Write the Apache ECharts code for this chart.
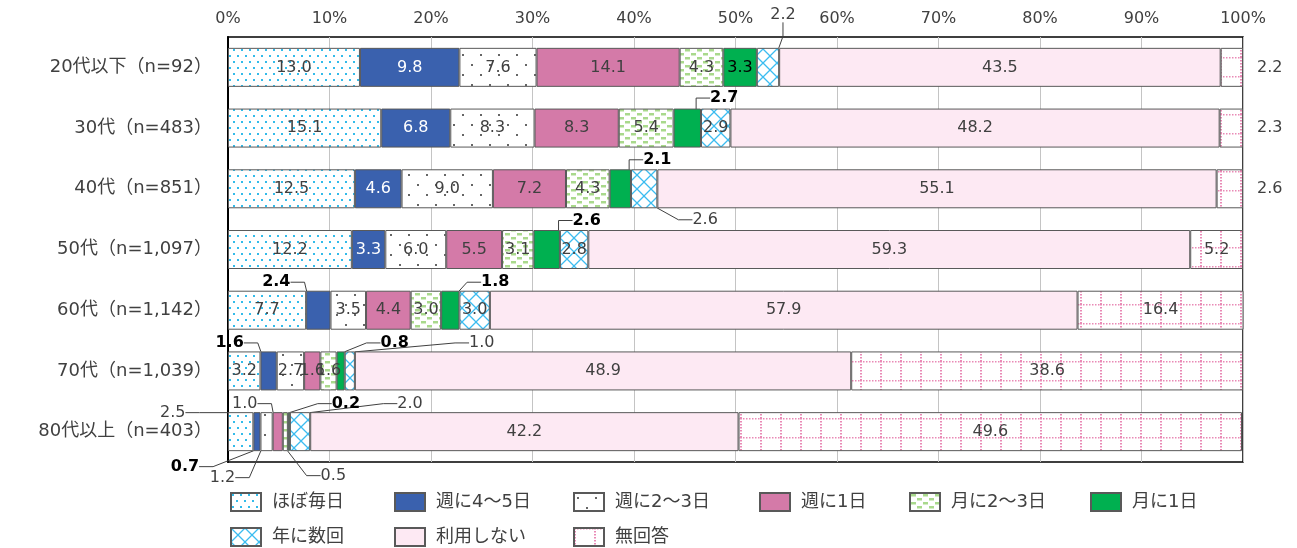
<!DOCTYPE html>
<html>
<head>
<meta charset="utf-8">
<script src="https://cdn.jsdelivr.net/npm/echarts@6/dist/echarts.min.js"></script>
<style>
html,body{margin:0;padding:0;background:#fff;}
#chart{width:1297px;height:548px;}
</style>
</head>
<body>
<div id="chart"></div>
<script>
// ---- data ----
const categories = ['20代以下（n=92）', '30代（n=483）', '40代（n=851）', '50代（n=1,097）', '60代（n=1,142）', '70代（n=1,039）', '80代以上（n=403）'];
const seriesNames = ['ほぼ毎日', '週に4～5日', '週に2～3日', '週に1日', '月に2～3日', '月に1日', '年に数回', '利用しない', '無回答'];
const hoboMainichi = [13.0, 15.1, 12.5, 12.2, 7.7, 3.2, 2.5];
const shu4to5 = [9.8, 6.8, 4.6, 3.3, 2.4, 1.6, 0.7];
const shu2to3 = [7.6, 8.3, 9.0, 6.0, 3.5, 2.7, 1.2];
const shu1 = [14.1, 8.3, 7.2, 5.5, 4.4, 1.6, 1.0];
const tsuki2to3 = [4.3, 5.4, 4.3, 3.1, 3.0, 1.6, 0.5];
const tsuki1 = [3.3, 2.7, 2.1, 2.6, 1.8, 0.8, 0.2];
const nenSuukai = [2.2, 2.9, 2.6, 2.8, 3.0, 1.0, 2.0];
const riyouShinai = [43.5, 48.2, 55.1, 59.3, 57.9, 48.9, 42.2];
const muKaitou = [2.2, 2.3, 2.6, 5.2, 16.4, 38.6, 49.6];
const xTickValues = [0, 10, 20, 30, 40, 50, 60, 70, 80, 90, 100];

const seriesValues = [hoboMainichi, shu4to5, shu2to3, shu1, tsuki2to3, tsuki1, nenSuukai, riyouShinai, muKaitou];

// ---- annotation layout (label offsets from segment centre, px) ----
// [seriesIndex, categoryIndex, dx, dy, style]  style: 'b' bold black, 'g' gray
const callouts = [
  [6, 0, 15, -53, 'g'],
  [5, 1, 37, -30, 'b'],
  [5, 2, 37, -29, 'b'],
  [6, 2, 61, 31, 'g'],
  [5, 3, 40, -29, 'b'],
  [1, 4, -42, -28, 'b'],
  [5, 4, 45, -28, 'b'],
  [1, 5, -39, -28, 'b'],
  [5, 5, 54, -28, 'b'],
  [6, 5, 132, -28, 'g'],
  [0, 6, -68, -19, 'g'],
  [1, 6, -72, 35, 'b'],
  [2, 6, -44, 46, 'g'],
  [3, 6, -33, -28, 'g'],
  [4, 6, 48, 44, 'g'],
  [5, 6, 57, -28, 'b'],
  [6, 6, 110, -28, 'g']
];
const rightLabels = [[8, 0], [8, 1], [8, 2]];

function findCallout(si, ci) {
  return callouts.find(c => c[0] === si && c[1] === ci);
}
function isRight(si, ci) {
  return rightLabels.some(c => c[0] === si && c[1] === ci);
}

// ---- pattern fills ----
function makePattern(w, h, draw) {
  const c = document.createElement('canvas');
  c.width = w; c.height = h;
  const ctx = c.getContext('2d');
  ctx.fillStyle = '#ffffff';
  ctx.fillRect(0, 0, w, h);
  draw(ctx);
  return { image: c, repeat: 'repeat' };
}
const pDots = makePattern(8, 12, ctx => {
  ctx.fillStyle = '#33bbea';
  ctx.fillRect(1, 1, 2, 2);
  ctx.fillRect(5, 7, 2, 2);
});
const pSparse = makePattern(18, 20, ctx => {
  ctx.fillStyle = '#666666';
  ctx.fillRect(3, 4, 2, 2);
  ctx.fillRect(12, 14, 2, 2);
});
const pGreen = makePattern(12, 8, ctx => {
  ctx.fillStyle = '#a9d98c';
  ctx.fillRect(1, 1, 5, 2.5);
  ctx.fillRect(7, 5, 5, 2.5);
});
const pCross = makePattern(14, 14, ctx => {
  ctx.strokeStyle = '#3bbcf0';
  ctx.lineWidth = 1.3;
  ctx.beginPath();
  ctx.moveTo(0, 0); ctx.lineTo(14, 14);
  ctx.moveTo(14, 0); ctx.lineTo(0, 14);
  ctx.stroke();
});
const pGrid = makePattern(20, 19, ctx => {
  ctx.fillStyle = '#e98ab6';
  for (let y = 0; y < 19; y += 3) ctx.fillRect(0, y, 2, 1.5);
  for (let x = 3; x < 20; x += 3) ctx.fillRect(x, 0, 1.5, 1.5);
});

const fills = [pDots, '#3a61ae', pSparse, '#d47aa8', pGreen, '#00b050', pCross, '#fde9f3', pGrid];
const labelColors = ['#404040', '#ffffff', '#404040', '#404040', '#404040', '#000000', '#404040', '#404040', '#404040'];

const latinFont = "'DejaVu Sans', 'Noto Sans CJK JP', sans-serif";
const cjkFont = "'DejaVu Sans', 'Noto Sans CJK JP', sans-serif";

const series = seriesNames.map((name, si) => ({
  type: 'bar',
  name: name,
  stack: 'total',
  barWidth: 39,
  itemStyle: { color: fills[si], borderColor: '#595959', borderWidth: 1 },
  label: {
    show: true,
    position: 'inside',
    color: labelColors[si],
    fontFamily: latinFont,
    fontSize: 16,
    formatter: p => Number(p.value).toFixed(1)
  },
  labelLine: { show: false, length2: 14, lineStyle: { color: '#404040', width: 1 } },
  labelLayout: function (p) {
    const c = findCallout(p.seriesIndex, p.dataIndex);
    if (!c) return {};
    return {
      x: p.rect.x + p.rect.width / 2 + c[2],
      y: p.rect.y + p.rect.height / 2 + c[3],
      align: 'center',
      verticalAlign: 'middle'
    };
  },
  emphasis: { disabled: true },
  data: seriesValues[si].map((v, ci) => {
    const c = findCallout(si, ci);
    if (c) {
      return {
        value: v,
        label: c[4] === 'b' ? { color: '#000000', fontWeight: 'bold' } : { color: '#404040' },
        labelLine: { show: true }
      };
    }
    if (isRight(si, ci)) {
      return { value: v, label: { position: 'right', distance: 14, color: '#404040' } };
    }
    return { value: v };
  })
}));

const legendCols = [230, 394, 573, 759, 909, 1090];
const legends = seriesNames.map((n, i) => ({
  data: [n],
  left: i < 6 ? legendCols[i] : legendCols[i - 6],
  top: i < 6 ? 492 : 527,
  padding: 0,
  icon: 'rect',
  itemWidth: 30,
  itemHeight: 18,
  selectedMode: false,
  textStyle: { fontSize: 18, color: '#404040', fontFamily: cjkFont, padding: [0, 0, 0, 6] }
}));

const chart = echarts.init(document.getElementById('chart'), null, { renderer: 'canvas' });
chart.setOption({
  animation: false,
  backgroundColor: '#ffffff',
  grid: { left: 228, right: 54, top: 37, bottom: 86, show: true, borderColor: '#000000', borderWidth: 1.5, backgroundColor: 'transparent' },
  legend: legends,
  xAxis: {
    type: 'value',
    position: 'top',
    min: xTickValues[0],
    max: xTickValues[xTickValues.length - 1],
    interval: xTickValues[1] - xTickValues[0],
    axisLine: { show: false },
    axisTick: { show: false },
    axisLabel: { formatter: '{value}%', color: '#404040', fontSize: 16, fontFamily: latinFont, margin: 10 },
    splitLine: { show: true, lineStyle: { color: '#c4c4c4', width: 1 } }
  },
  yAxis: {
    type: 'category',
    inverse: true,
    data: categories,
    axisLine: { show: true, lineStyle: { color: '#000000', width: 2 } },
    axisTick: { show: false },
    axisLabel: { color: '#404040', fontSize: 18, fontFamily: cjkFont, margin: 16 }
  },
  series: series
});
</script>
</body>
</html>
